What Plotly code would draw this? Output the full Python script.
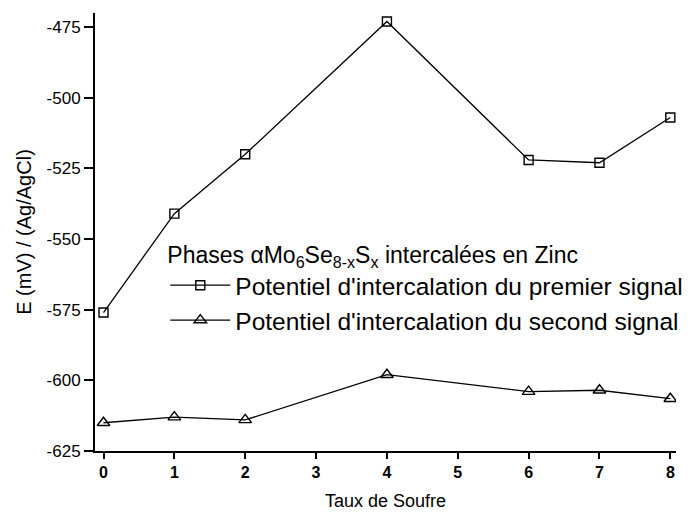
import plotly.graph_objects as go

taux = [0, 1, 2, 4, 6, 7, 8]
premier = [-576, -541, -520, -473, -522, -523, -507]
second = [-615, -613, -614, -598, -604, -603.5, -606.5]

x_ticks = [0, 1, 2, 3, 4, 5, 6, 7, 8]
y_ticks = [-625, -600, -575, -550, -525, -500, -475]
y_ticktext = ["-625", "-600", "-575", "-550", "-525", "-500", "-475"]

font_family = "Liberation Sans, Arial, sans-serif"

fig = go.Figure()
fig.add_trace(go.Scatter(
    x=taux, y=premier, mode="lines+markers",
    name="Potentiel d'intercalation du premier signal",
    line=dict(color="black", width=1.3),
    marker=dict(symbol="square-open", size=9, color="black", line=dict(width=1.4)),
))
fig.add_trace(go.Scatter(
    x=taux, y=second, mode="lines+markers",
    name="Potentiel d'intercalation du second signal",
    line=dict(color="black", width=1.3),
    marker=dict(symbol="triangle-up-open", size=11, color="black", line=dict(width=1.4)),
))

fig.update_layout(
    width=720, height=514,
    margin=dict(l=87, r=52, t=5, b=71),
    paper_bgcolor="white", plot_bgcolor="white",
    font=dict(family=font_family, color="black"),
    showlegend=True,
    legend=dict(
        x=0.121, y=0.498, xanchor="left", yanchor="top",
        bgcolor="rgba(0,0,0,0)",
        font=dict(size=24.5, family=font_family),
        title=dict(text="Phases αMo<sub>6</sub>Se<sub>8-x</sub>S<sub>x</sub> intercalées en Zinc",
                   font=dict(size=23, family=font_family)),
        itemwidth=60,
        tracegroupgap=0,
    ),
    xaxis=dict(
        range=[-0.12, 8.08], tickvals=x_ticks,
        ticks="outside", ticklen=6, tickwidth=1.5, tickcolor="black",
        showline=True, linecolor="black", linewidth=2,
        showgrid=False, zeroline=False, automargin=False,
        tickfont=dict(size=16, family=font_family, weight="bold"),
        title=dict(text="Taux de Soufre", font=dict(size=18, family=font_family), standoff=14),
    ),
    yaxis=dict(
        range=[-625, -470], tickvals=y_ticks, ticktext=y_ticktext,
        ticks="outside", ticklen=9, tickwidth=1.5, tickcolor="black",
        showline=True, linecolor="black", linewidth=2,
        showgrid=False, zeroline=False, automargin=False,
        tickfont=dict(size=17, family=font_family),
        title=dict(text="E (mV) / (Ag/AgCl)", font=dict(size=20, family=font_family), standoff=10),
    ),
)

fig.write_html("out.html")
